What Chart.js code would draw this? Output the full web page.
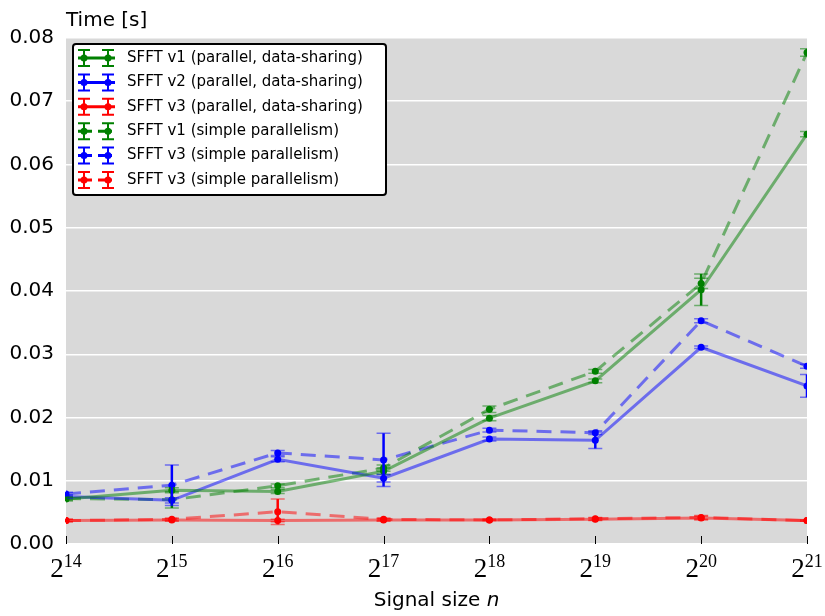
<!DOCTYPE html>
<html>
<head>
<meta charset="utf-8">
<script src="https://cdn.jsdelivr.net/npm/chart.js@4.4.0/dist/chart.umd.min.js"></script>
<style>
  body { margin: 0; background: #fff; }
  #wrap { width: 825px; height: 616px; }
</style>
</head>
<body>
<div id="wrap"><canvas id="chart"></canvas></div>
<script>
// exponents of the signal size n = 2^k
var sizes = [14, 15, 16, 17, 18, 19, 20, 21];
var yTicks = [0, 0.01, 0.02, 0.03, 0.04, 0.05, 0.06, 0.07, 0.08];

var labels = ['SFFT v1 (parallel, data-sharing)', 'SFFT v2 (parallel, data-sharing)',
  'SFFT v3 (parallel, data-sharing)', 'SFFT v1 (simple parallelism)',
  'SFFT v3 (simple parallelism)', 'SFFT v3 (simple parallelism)'];

// parallel, data-sharing (solid)
var v1Shared = [0.0071, 0.0085, 0.0083, 0.0115, 0.0199, 0.0258, 0.0402, 0.0648];
var v1SharedErr = [0.0003, 0.0004, 0.0003, 0.0005, 0.0004, 0.0003, 0.0025, 0.0004];
var v2Shared = [0.0075, 0.0069, 0.0134, 0.0104, 0.0166, 0.0164, 0.0311, 0.0250];
var v2SharedErr = [0.0003, 0.0004, 0.0004, 0.0006, 0.0003, 0.0013, 0.0002, 0.0018];
var v3Shared = [0.0037, 0.0038, 0.0037, 0.0038, 0.0038, 0.0039, 0.0041, 0.0037];
var v3SharedErr = [0.0002, 0.0002, 0.0002, 0.0002, 0.0001, 0.0002, 0.0003, 0.0001];

// simple parallelism (dashed)
var v1Simple = [0.0072, 0.0070, 0.0092, 0.0120, 0.0213, 0.0273, 0.0412, 0.0777];
var v1SimpleErr = [0.0003, 0.0013, 0.0003, 0.0005, 0.0005, 0.0003, 0.0008, 0.0006];
var v3bSimple = [0.0079, 0.0093, 0.0144, 0.0133, 0.0180, 0.0176, 0.0353, 0.0281];
var v3bSimpleErr = [0.0003, 0.0032, 0.0004, 0.0042, 0.0003, 0.0003, 0.0003, 0.0003];
var v3Simple = [0.0037, 0.0039, 0.0051, 0.0039, 0.0038, 0.0040, 0.0042, 0.0037];
var v3SimpleErr = [0.0002, 0.0002, 0.0020, 0.0002, 0.0001, 0.0002, 0.0003, 0.0001];

var GREEN = 'rgb(0,128,0)', BLUE = 'rgb(0,0,255)', RED = 'rgb(255,0,0)';
function fade(c) { return c.replace('rgb', 'rgba').replace(')', ',0.5)'); }

function makeSet(label, vals, errs, color, dashed) {
  return {
    label: label,
    data: sizes.map(function (k, i) { return { x: k, y: vals[i] }; }),
    err: errs,
    borderColor: fade(color),
    backgroundColor: color,
    pointBackgroundColor: color,
    pointBorderColor: color,
    pointRadius: 3.5,
    pointBorderWidth: 0,
    borderWidth: 3,
    borderDash: dashed ? [15, 9] : [],
    tension: 0,
    baseColor: color,
    dashed: dashed
  };
}

var datasets = [
  makeSet(labels[0], v1Shared, v1SharedErr, GREEN, false),
  makeSet(labels[1], v2Shared, v2SharedErr, BLUE, false),
  makeSet(labels[2], v3Shared, v3SharedErr, RED, false),
  makeSet(labels[3], v1Simple, v1SimpleErr, GREEN, true),
  makeSet(labels[4], v3bSimple, v3bSimpleErr, BLUE, true),
  makeSet(labels[5], v3Simple, v3SimpleErr, RED, true)
];

var FONT = '"DejaVu Sans", sans-serif';
var SERIF = '"Liberation Serif", serif';

// grey plotting background
var bgPlugin = {
  id: 'bg',
  beforeDraw: function (chart) {
    var a = chart.chartArea, ctx = chart.ctx;
    ctx.save();
    ctx.fillStyle = '#d9d9d9';
    ctx.fillRect(a.left, a.top, a.right - a.left, a.bottom - a.top);
    ctx.restore();
  }
};

// vertical error bars with caps
var errPlugin = {
  id: 'errbars',
  afterDatasetsDraw: function (chart) {
    var ctx = chart.ctx, ys = chart.scales.y, a = chart.chartArea;
    ctx.save();
    ctx.beginPath();
    ctx.rect(a.left - 1, a.top, a.right - a.left + 1, a.bottom - a.top);
    ctx.clip();
    chart.data.datasets.forEach(function (ds, di) {
      var meta = chart.getDatasetMeta(di);
      meta.data.forEach(function (pt, i) {
        var v = ds.data[i].y, e = ds.err[i];
        var top = ys.getPixelForValue(v + e), bot = ys.getPixelForValue(v - e);
        ctx.strokeStyle = ds.baseColor;
        ctx.lineWidth = 2.5;
        ctx.beginPath();
        ctx.moveTo(pt.x, top); ctx.lineTo(pt.x, bot);
        ctx.stroke();
        ctx.strokeStyle = fade(ds.baseColor);
        ctx.lineWidth = 1.5;
        ctx.beginPath();
        ctx.moveTo(pt.x - 7, top); ctx.lineTo(pt.x + 7, top);
        ctx.moveTo(pt.x - 7, bot); ctx.lineTo(pt.x + 7, bot);
        ctx.stroke();
      });
    });
    ctx.restore();
  }
};

// x tick labels 2^k, tick marks, axis titles, legend
var decorPlugin = {
  id: 'decor',
  afterDraw: function (chart) {
    var ctx = chart.ctx, a = chart.chartArea, xs = chart.scales.x;
    ctx.save();
    // tick marks inside bottom
    ctx.strokeStyle = '#000';
    ctx.lineWidth = 1;
    sizes.forEach(function (k) {
      var x = Math.round(xs.getPixelForValue(k)) + 0.5;
      ctx.beginPath();
      ctx.moveTo(x, a.bottom); ctx.lineTo(x, a.bottom - 8);
      ctx.stroke();
    });
    // tick labels
    ctx.fillStyle = '#000';
    ctx.textBaseline = 'alphabetic';
    sizes.forEach(function (k) {
      var x = xs.getPixelForValue(k);
      ctx.font = '27px ' + SERIF;
      var w1 = ctx.measureText('2').width;
      ctx.font = '18px ' + SERIF;
      var w2 = ctx.measureText(String(k)).width;
      var x0 = x - (w1 + w2) / 2;
      ctx.font = '27px ' + SERIF;
      ctx.textAlign = 'left';
      ctx.fillText('2', x0, a.bottom + 33);
      ctx.font = '18px ' + SERIF;
      ctx.fillText(String(k), x0 + w1, a.bottom + 23);
    });
    // x title
    ctx.font = '20px ' + FONT;
    var t1 = 'Signal size ';
    var w = ctx.measureText(t1).width;
    ctx.font = 'italic 20px ' + FONT;
    var wn = ctx.measureText('n').width;
    var cx = (a.left + a.right) / 2 - (w + wn) / 2;
    ctx.font = '20px ' + FONT;
    ctx.fillText(t1, cx, 606);
    ctx.font = 'italic 20px ' + FONT;
    ctx.fillText('n', cx + w, 606);
    // y title
    ctx.font = '20px ' + FONT;
    ctx.fillText('Time [s]', a.left, 26);

    // legend
    var lx = 73, ly = 44, lw = 313, lh = 151;
    ctx.fillStyle = '#fff';
    ctx.strokeStyle = '#000';
    ctx.lineWidth = 2;
    ctx.beginPath();
    ctx.roundRect(lx, ly, lw, lh, 3);
    ctx.fill();
    ctx.stroke();
    chart.data.datasets.forEach(function (ds, i) {
      var y = 58 + i * 24.4;
      var c = ds.baseColor;
      ctx.strokeStyle = c;
      ctx.lineWidth = 3;
      ctx.setLineDash(ds.dashed ? [14, 6] : []);
      ctx.beginPath();
      ctx.moveTo(78, y); ctx.lineTo(115, y);
      ctx.stroke();
      ctx.setLineDash([]);
      [84, 108].forEach(function (px) {
        ctx.lineWidth = 2;
        ctx.beginPath();
        ctx.moveTo(px, y - 8); ctx.lineTo(px, y + 8);
        ctx.moveTo(px - 6, y - 8); ctx.lineTo(px + 6, y - 8);
        ctx.moveTo(px - 6, y + 8); ctx.lineTo(px + 6, y + 8);
        ctx.stroke();
        ctx.fillStyle = c;
        ctx.beginPath();
        ctx.arc(px, y, 3.5, 0, Math.PI * 2);
        ctx.fill();
      });
      ctx.fillStyle = '#000';
      ctx.font = '15px ' + FONT;
      ctx.textBaseline = 'middle';
      ctx.textAlign = 'left';
      ctx.fillText(ds.label, 127, y);
    });
    ctx.restore();
  }
};

new Chart(document.getElementById('chart'), {
  type: 'line',
  data: { datasets: datasets },
  plugins: [bgPlugin, errPlugin, decorPlugin],
  options: {
    responsive: true,
    maintainAspectRatio: false,
    animation: false,
    layout: { padding: { top: 38, right: 18, left: 0, bottom: 0 } },
    plugins: { legend: { display: false }, tooltip: { enabled: false } },
    scales: {
      x: {
        type: 'linear',
        min: 14, max: 21,
        afterFit: function (s) { s.height = 72; },
        ticks: { display: false, stepSize: 1 },
        grid: { display: false },
        border: { display: false }
      },
      y: {
        min: 0, max: 0.08,
        afterFit: function (s) { s.width = 66; },
        afterBuildTicks: function (s) { s.ticks = yTicks.map(function (v) { return { value: v }; }); },
        ticks: {
          color: '#000',
          padding: 12,
          font: { family: FONT, size: 20 },
          callback: function (v) { return v.toFixed(2); }
        },
        grid: { color: '#fff', lineWidth: 1.5, drawTicks: false },
        border: { display: false }
      }
    }
  }
});
</script>
</body>
</html>
